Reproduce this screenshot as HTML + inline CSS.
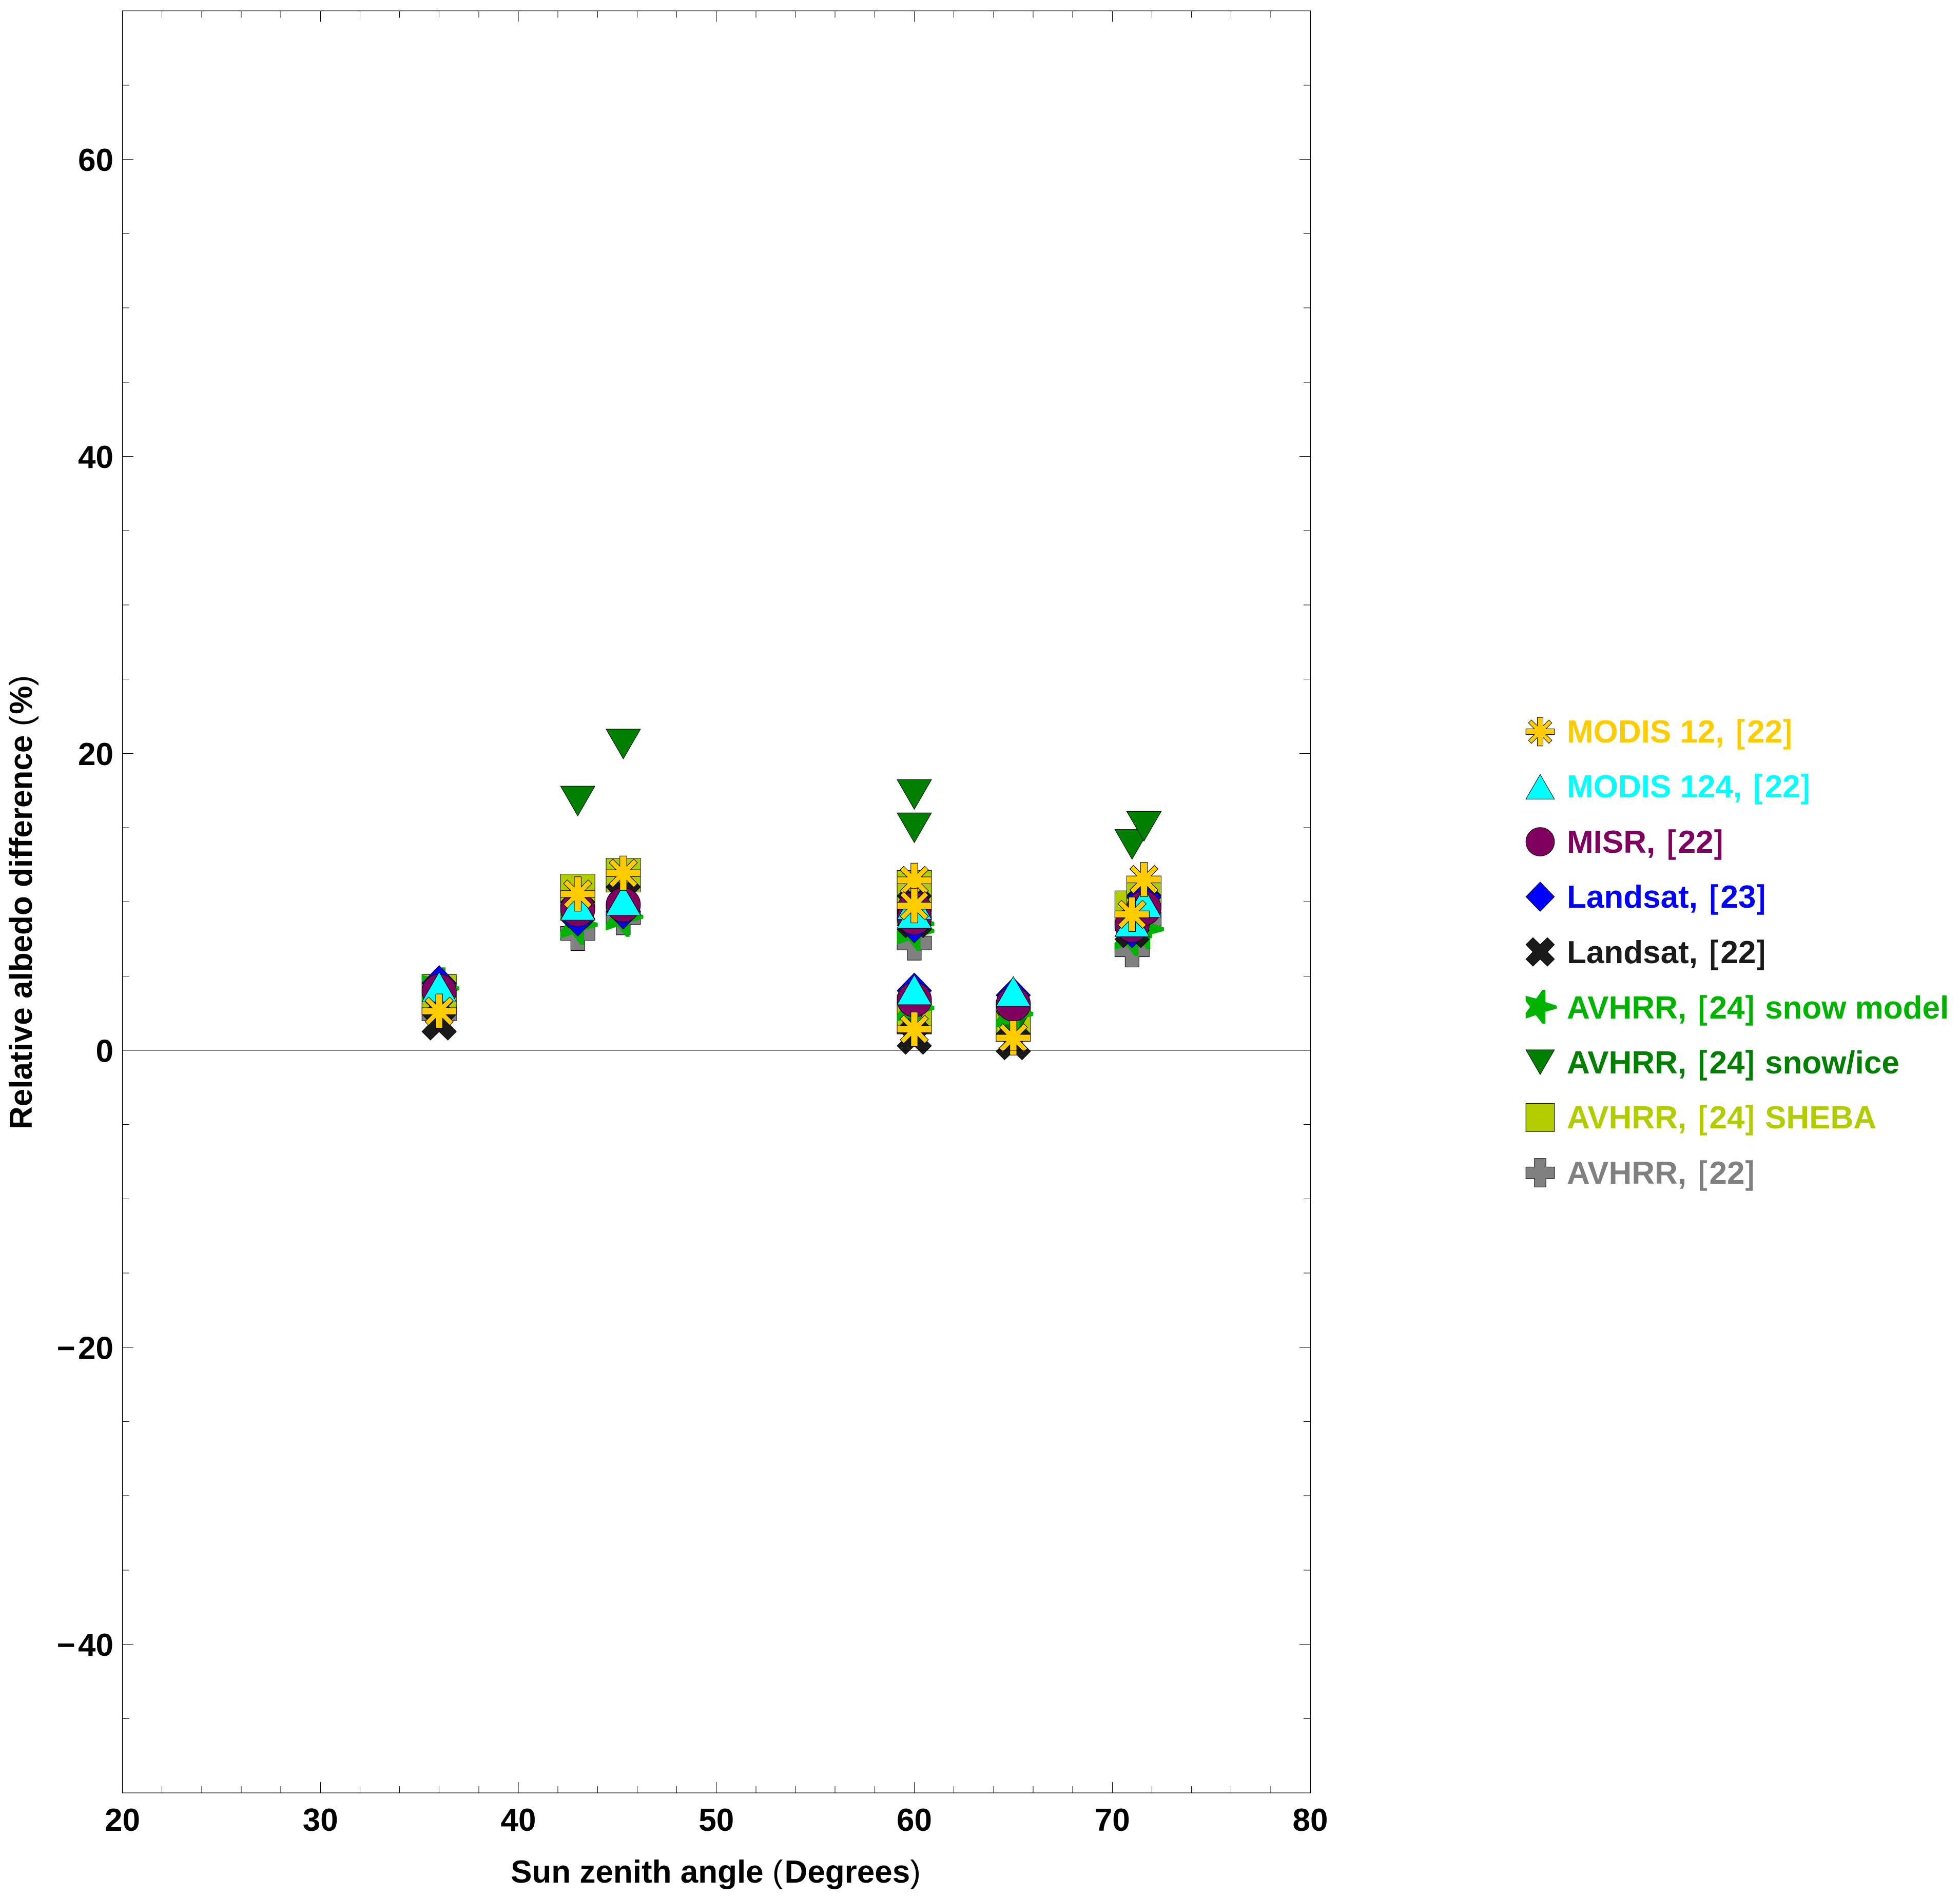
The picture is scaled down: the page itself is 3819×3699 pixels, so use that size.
<!DOCTYPE html>
<html lang="en">
<head>
<meta charset="utf-8">
<title>Relative albedo difference vs sun zenith angle</title>
<style>
html,body{margin:0;padding:0;background:#fff;}
svg{display:block;}
text{font-family:"Liberation Sans",Arial,sans-serif;font-weight:700;font-size:62px;}
.thin{font-weight:400;letter-spacing:3px;}
.br{font-weight:400;letter-spacing:5px;stroke-width:1.5px;}
.brc{font-weight:400;letter-spacing:3px;stroke-width:1.5px;}
</style>
</head>
<body>
<svg id="chart" xmlns="http://www.w3.org/2000/svg" width="3819" height="3699" viewBox="0 0 3819 3699">
  <rect x="0" y="0" width="3819" height="3699" fill="#fff"/>
  <g id="marks"></g>
  <g id="axes" shape-rendering="crispEdges"></g>
  <g id="tick-labels"></g>
  <text x="1396" y="3669" text-anchor="middle">Sun zenith angle <tspan class="thin">(</tspan>Degrees<tspan class="thin">)</tspan></text>
  <text transform="translate(62 1757) rotate(-90)" text-anchor="middle">Relative albedo difference <tspan class="thin">(</tspan>%<tspan class="thin">)</tspan></text>
  <g id="legend-markers"></g>
  <g>
    <text x="3053" y="1447" fill="#ffcc00" stroke="#ffcc00" stroke-width="0">MODIS 12, <tspan class="br" dx="5">[</tspan>22<tspan class="brc" dx="2">]</tspan></text>
    <text x="3053" y="1554" fill="#00ffff" stroke="#00ffff" stroke-width="0">MODIS 124, <tspan class="br" dx="5">[</tspan>22<tspan class="brc" dx="2">]</tspan></text>
    <text x="3053" y="1662" fill="#800060" stroke="#800060" stroke-width="0">MISR, <tspan class="br" dx="5">[</tspan>22<tspan class="brc" dx="2">]</tspan></text>
    <text x="3053" y="1769" fill="#0000ff" stroke="#0000ff" stroke-width="0">Landsat, <tspan class="br" dx="5">[</tspan>23<tspan class="brc" dx="2">]</tspan></text>
    <text x="3053" y="1877" fill="#1a1a1a" stroke="#1a1a1a" stroke-width="0">Landsat, <tspan class="br" dx="5">[</tspan>22<tspan class="brc" dx="2">]</tspan></text>
    <text x="3053" y="1985" fill="#00b300" stroke="#00b300" stroke-width="0">AVHRR, <tspan class="br" dx="5">[</tspan>24<tspan class="brc" dx="2">]</tspan> snow model</text>
    <text x="3053" y="2092" fill="#008000" stroke="#008000" stroke-width="0">AVHRR, <tspan class="br" dx="5">[</tspan>24<tspan class="brc" dx="2">]</tspan> snow/ice</text>
    <text x="3053" y="2199" fill="#b3cc00" stroke="#b3cc00" stroke-width="0">AVHRR, <tspan class="br" dx="5">[</tspan>24<tspan class="brc" dx="2">]</tspan> SHEBA</text>
    <text x="3053" y="2307" fill="#808080" stroke="#808080" stroke-width="0">AVHRR, <tspan class="br" dx="5">[</tspan>22<tspan class="brc" dx="2">]</tspan></text>
  </g>
</svg>
<script>
// Chart data (null = not visible in the figure)
const zenithAngles = [36, 43, 45.3, 60, 60, 60, 65, 71, 71.6];
const modis12 = [2.64, 10.53, 11.93, 11.45, 9.74, 1.42, 0.84, 9.16, 11.51];
const modis124 = [4.27, 9.77, 10.11, 9.83, 9.23, 4.08, 3.97, 8.66, 9.97];
const misr = [3.98, 9.5, 9.8, 9.5, 8.94, 3.41, 3.12, 8.44, 9.57];
const landsat23 = [4.52, 8.88, 9.36, 8.43, null, 4.02, 3.71, 8.09, 10.3];
const landsat22 = [1.85, 9.4, 10.42, 9.81, 8.74, 0.89, 0.52, 8.07, 9.85];
const avhrrSnowModel = [4.2, 8.49, 9.02, 8.55, 8.07, 2.89, 2.48, 7.72, 8.19];
const avhrrSnowIce = [null, 16.79, 20.63, 17.23, 14.99, 2.43, 1.65, 13.87, 15.09];
const avhrrSheba = [3.96, 10.73, 11.8, 10.98, null, 2.27, 1.75, 9.6, 10.6];
const avhrr22 = [2.46, 7.88, 8.94, 7.23, null, 1.57, null, 6.77, 8.84];
const xTickLabels = [20, 30, 40, 50, 60, 70, 80];
const yTickLabels = [60, 40, 20, 0, -20, -40];

const NS = 'http://www.w3.org/2000/svg';
const PLOT = {left: 238.5, right: 2553, top: 21.3, bottom: 3494, xMin: 20, xMax: 80, yMin: -50, yMax: 70};
function xScale(v) { return PLOT.left + (v - PLOT.xMin) * (PLOT.right - PLOT.left) / (PLOT.xMax - PLOT.xMin); }
function yScale(v) { return PLOT.bottom - (v - PLOT.yMin) * (PLOT.bottom - PLOT.top) / (PLOT.yMax - PLOT.yMin); }

function rotateQuadrant(pts) {
  const out = [];
  for (let k = 0; k < 4; k++) {
    pts.forEach(function (p) {
      let x = p[0], y = p[1];
      for (let i = 0; i < k; i++) { const t = x; x = -y; y = t; }
      out.push([x, y]);
    });
  }
  return out;
}
const SHAPES = {
  asterisk: rotateQuadrant([[6.7, -33.5], [6.7, -13.77], [20.46, -27.54], [27.54, -20.46], [13.77, -6.7], [33.5, -6.7]]),
  triUp: [[0, -29], [33.5, 29], [-33.5, 29]],
  diamond: [[0, -34.5], [33.5, 0], [0, 34.5], [-33.5, 0]],
  cross: rotateQuadrant([[0, -17], [17, -33.5], [33.5, -17], [17, 0]]),
  star: [[5.4, -40.2], [12.3, -40.2], [12.3, -11.3], [39, -2.7], [39, 4.3], [12.3, 11.6], [12.3, 39.8], [5.4, 39.8], [-10.4, 19.4], [-34.1, 27.5], [-34.1, 14.7], [-23.7, 0], [-34.1, -13.6], [-34.1, -25.9], [-9.3, -19.4]],
  triDown: [[-33.5, -29], [33.5, -29], [0, 29]],
  square: [[-33.5, -33], [33.5, -33], [33.5, 33], [-33.5, 33]],
  plus: [[-13.5, -33.5], [13.5, -33.5], [13.5, -13.5], [33.5, -13.5], [33.5, 13.5], [13.5, 13.5], [13.5, 33.5], [-13.5, 33.5], [-13.5, 13.5], [-33.5, 13.5], [-33.5, -13.5], [-13.5, -13.5]]
};

function drawMarker(parent, shape, color, cx, cy, scale, strokeWidth) {
  let el;
  if (shape === 'circle') {
    el = document.createElementNS(NS, 'circle');
    el.setAttribute('cx', cx);
    el.setAttribute('cy', cy);
    el.setAttribute('r', 33.5 * scale);
  } else {
    el = document.createElementNS(NS, 'polygon');
    el.setAttribute('points', SHAPES[shape].map(function (p) {
      return (cx + p[0] * scale).toFixed(2) + ',' + (cy + p[1] * scale).toFixed(2);
    }).join(' '));
  }
  el.setAttribute('fill', color);
  if (shape !== 'star') {
    el.setAttribute('stroke', '#000');
    el.setAttribute('stroke-width', strokeWidth);
  }
  parent.appendChild(el);
  return el;
}

// Series listed in draw order (bottom to top)
const seriesKeys = ['avhrr-22', 'avhrr-sheba', 'avhrr-snow-ice', 'avhrr-snow-model', 'landsat-22', 'landsat-23', 'misr', 'modis-124', 'modis-12'];
const seriesValues = [avhrr22, avhrrSheba, avhrrSnowIce, avhrrSnowModel, landsat22, landsat23, misr, modis124, modis12];
const seriesShapes = ['plus', 'square', 'triDown', 'star', 'cross', 'diamond', 'circle', 'triUp', 'asterisk'];
const seriesColors = ['#808080', '#b3cc00', '#008000', '#00b300', '#1a1a1a', '#0000ff', '#800060', '#00ffff', '#ffcc00'];
const legendCenters = [1467, 1298, 1129, 960, 792, 623.5, 455.5, 287.5, 119];

const marksGroup = document.getElementById('marks');
seriesValues.forEach(function (values, s) {
  const g = document.createElementNS(NS, 'g');
  
  
  marksGroup.appendChild(g);
  values.forEach(function (v, i) {
    if (v === null) return;
    const m = drawMarker(g, seriesShapes[s], seriesColors[s], xScale(zenithAngles[i]), yScale(v), 1, 1);
    
    
  });
});

const legendGroup = document.getElementById('legend-markers');
seriesKeys.forEach(function (key, s) {
  const m = drawMarker(legendGroup, seriesShapes[s], seriesColors[s], 3001, 1350 + legendCenters[s] / 1.568, 0.83, 1);
  
  
});

const axesGroup = document.getElementById('axes');
function addLine(x1, y1, x2, y2, width) {
  const l = document.createElementNS(NS, 'line');
  l.setAttribute('x1', x1);
  l.setAttribute('y1', y1);
  l.setAttribute('x2', x2);
  l.setAttribute('y2', y2);
  l.setAttribute('stroke', '#000');
  l.setAttribute('stroke-width', width);
  axesGroup.appendChild(l);
  return l;
}
for (let v = PLOT.xMin + 2; v < PLOT.xMax; v += 2) {
  const len = v % 10 === 0 ? 21 : 13;
  const b = addLine(xScale(v), PLOT.bottom, xScale(v), PLOT.bottom - len, 1);
  
  
  const t = addLine(xScale(v), PLOT.top, xScale(v), PLOT.top + len, 1);
  
  
}
for (let v = PLOT.yMin + 5; v < PLOT.yMax; v += 5) {
  const len = v % 20 === 0 ? 21 : 13;
  const a = addLine(PLOT.left, yScale(v), PLOT.left + len, yScale(v), 1);
  
  
  const c = addLine(PLOT.right, yScale(v), PLOT.right - len, yScale(v), 1);
  
  
}
const frame = document.createElementNS(NS, 'rect');
frame.setAttribute('x', PLOT.left);
frame.setAttribute('y', PLOT.top);
frame.setAttribute('width', PLOT.right - PLOT.left);
frame.setAttribute('height', PLOT.bottom - PLOT.top);
frame.setAttribute('fill', 'none');
frame.setAttribute('stroke', '#000');
frame.setAttribute('stroke-width', 1.5);


axesGroup.appendChild(frame);
const zero = addLine(PLOT.left, yScale(0), PLOT.right, yScale(0), 1);



const labelsGroup = document.getElementById('tick-labels');
xTickLabels.forEach(function (v) {
  const t = document.createElementNS(NS, 'text');
  t.setAttribute('x', xScale(v));
  t.setAttribute('y', 3568);
  t.setAttribute('text-anchor', 'middle');
  t.textContent = String(v);
  
  
  labelsGroup.appendChild(t);
});
yTickLabels.forEach(function (v) {
  const t = document.createElementNS(NS, 'text');
  t.setAttribute('x', 221);
  t.setAttribute('y', yScale(v) + 22.5);
  t.setAttribute('text-anchor', 'end');
  t.textContent = String(v).replace('-', '\u2212\u200a');
  
  
  labelsGroup.appendChild(t);
});
</script>
</body>
</html>
